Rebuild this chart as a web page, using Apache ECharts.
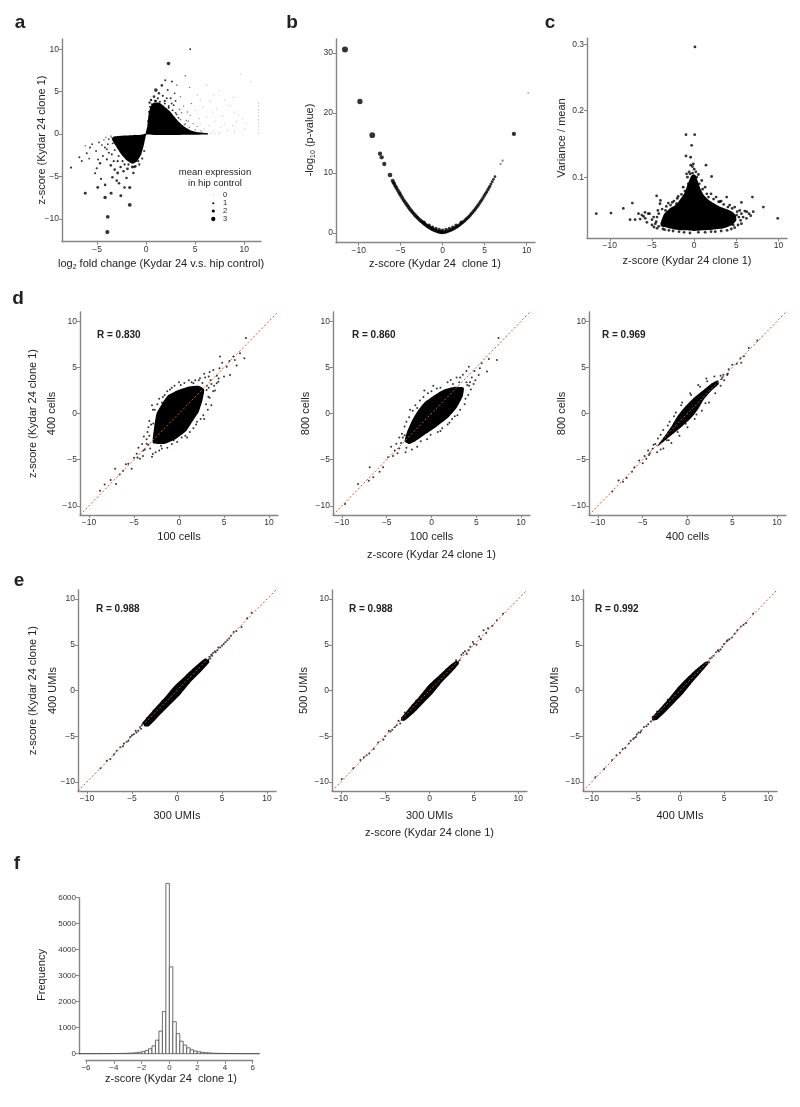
<!DOCTYPE html>
<html><head><meta charset="utf-8">
<script src="https://cdn.jsdelivr.net/npm/echarts@6/dist/echarts.min.js"></script>
<style>html,body{margin:0;padding:0;background:#fff}#c{width:800px;height:1107px}</style>
</head><body><div id="c"></div>
<script>
// ---------- tick labels ----------
const zTicks = [-10, -5, 0, 5, 10];
const aXTicks = [-5, 0, 5, 10];
const bYTicks = [0, 10, 20, 30];
const cYTicks = [0.1, 0.2, 0.3];
const fXTicks = [-6, -4, -2, 0, 2, 4, 6];
const fYTicks = [0, 1000, 2000, 3000, 4000, 5000, 6000];
const legendLevels = [0, 1, 2, 3];

// ---------- panel a: [log2 FC, z-score, mean expression] ----------
const aCoreRight = [[0,-0.05],[0.12,0.9],[0.25,2.3],[0.45,3.2],[0.8,3.7],[1.3,3.7],[1.8,3.3],[2.4,2.7],[2.9,2.0],[3.4,1.35],[3.9,0.85],[4.5,0.45],[5.3,0.2],[6.3,0.08],[6.3,-0.06]];
const aCoreLeft = [[0,0.05],[-0.5,-0.1],[-1.5,-0.15],[-2.5,-0.2],[-3.3,-0.3],[-3.5,-0.6],[-3.1,-1.4],[-2.6,-2.3],[-2.0,-3.1],[-1.4,-3.5],[-0.9,-3.2],[-0.5,-2.4],[-0.25,-1.4],[-0.1,-0.6]];
const aPoints = [
 [-3.95,-11.57,2.8],[-3.91,-9.76,2.5],[-1.67,-8.35,2.6],[-4.18,-7.49,2.2],[-2.58,-7.29,1.8],[-3.57,-6.98,1.8],[-6.2,-6.98,1.8],[-1.67,-6.31,2.0],[-4.93,-6.3,1.7],[-4.18,-6.0,1.4],[-2.76,-5.8,1.4],[-3.44,-5.1,1.4],[-5.2,-4.63,1.1],[-5.03,-4.04,1.1],[-7.65,-3.96,1.1],[-4.69,-3.45,1.3],[-6.56,-3.18,0.9],[-6.8,-2.75,0.9],[-6.05,-2.27,0.9],[-5.71,-1.6,0.9],
 [-3.2,-4.2,1.4],[-2.9,-4.6,1.6],[-2.3,-4.4,1.4],[-1.9,-4.1,1.6],[-1.4,-3.9,1.8],[-1.1,-3.8,1.4],[-3.6,-3.7,1.4],[-4.0,-3.0,1.1],[-4.4,-2.6,0.9],[-3.8,-2.2,0.9],[-5.1,-2.0,0.8],[-5.5,-1.2,0.7],[-4.8,-1.0,0.7],[-6.2,-1.4,0.6],[-2.0,-5.2,1.4],[-3.0,-5.5,1.4],[-2.2,-6.3,1.4],[-4.6,-5.3,1.1],[-1.3,-4.6,1.4],[-0.8,-3.2,1.1],[-0.6,-2.4,1.1],[-2.6,-3.9,1.4],[-3.3,-3.2,1.1],[-4.2,-1.6,0.9],[-5.8,-2.9,0.8],[-4.9,-3.0,0.9],
 [-3.5,-0.4,0.6],[-3.0,-0.8,0.8],[-2.6,-1.2,1.0],[-3.9,-1.2,0.8],[-4.3,-0.7,0.6],[-2.0,-2.8,1.2],[-1.6,-3.0,1.2],[-0.9,-1.8,1.0],[-0.4,-0.9,1.0],
 [-3.6,-0.25,0.6],[-3.8,-0.6,0.7],[-3.4,-1.1,0.8],[-3.2,-1.9,0.9],[-2.8,-2.6,1.0],[-2.4,-3.2,1.1],[-1.8,-3.6,1.2],[-1.2,-3.9,1.3],[-0.7,-3.6,1.2],[-0.4,-2.9,1.1],[-0.2,-2.0,1.0],[-2.9,-3.2,1.2],[-3.5,-2.4,1.0],[-2.5,-2.0,1.0],[-1.6,-2.4,1.1],[-4.0,-1.8,0.8],[-4.5,-1.3,0.7],[-4.1,-0.4,0.5],[-2.2,-3.6,1.2],[-1.0,-2.9,1.1],
 [-8.5,-0.8,0.1],[-8.5,-1.5,0.1],[-8.5,-2.3,0.1],[-8.5,-3.0,0.1],[-8.5,-3.8,0.1],[-8.5,-4.4,0.1],
 [4.49,10.0,0.8],[2.28,8.31,2.4],[3.98,6.86,0.6],[0.99,5.18,2.4],[1.6,5.73,1.4],[2.62,6.2,0.9],[1.94,6.35,0.9],[3.13,5.76,0.6],[1.3,4.8,1.3],[0.8,4.4,1.5],[1.7,4.5,1.1],[2.2,5.2,0.9],[2.9,4.8,0.7],[2.5,4.2,0.9],[0.5,4.0,1.4],[1.9,3.9,1.1],
 [0.4,3.2,1.0],[1.0,3.9,1.2],[2.3,3.1,1.0],[3.3,1.9,0.8],[3.9,1.1,0.6],[2.0,2.4,1.0],
 [0.2,1.5,1.0],[0.3,2.6,1.1],[0.6,3.5,1.2],[0.9,3.9,1.1],[1.4,3.8,1.0],[1.9,3.6,0.9],[2.3,3.3,0.9],[2.7,2.8,0.8],[3.1,2.3,0.7],[3.5,1.7,0.6],[4.0,1.2,0.5],[4.4,0.8,0.45],[5.0,0.5,0.4],[5.6,0.35,0.35],[1.2,4.2,1.2],[0.7,3.0,1.2],[1.6,2.9,1.0],[2.6,3.6,0.8],[3.6,2.5,0.55],[4.3,1.5,0.45],[5.2,0.9,0.35],[0.5,1.5,1.0],[0.35,3.7,1.3],[2.1,4.2,0.9],[3.0,3.9,0.7],
 [9.66,7.06,0.05],[10.68,6.2,0.05],[6.19,5.76,0.2],[4.42,5.49,0.35],[7.48,5.1,0.1],[8.91,4.31,0.05],[8.57,3.29,0.05],[9.42,2.23,0.05],[8.23,3.41,0.05],[5.51,4.0,0.2],[3.81,3.29,0.45],[4.6,3.6,0.35],[5.0,2.8,0.2],[5.8,3.2,0.2],[6.5,3.9,0.1],[6.8,2.6,0.1],[7.2,3.0,0.1],[7.8,2.1,0.1],[6.2,2.0,0.15],[5.4,1.8,0.2],[4.5,2.2,0.35],[4.1,1.6,0.45],[7.0,1.5,0.1],[8.0,1.2,0.05],[8.8,1.0,0.05],[9.2,1.5,0.05],[9.8,1.8,0.05],[10.2,1.3,0.05],[7.6,0.8,0.05],[6.4,1.0,0.1],[5.9,0.6,0.15],[6.8,0.3,0.1],[7.5,0.2,0.05],[8.3,0.4,0.05],[9.0,0.3,0.05],[10.0,0.6,0.05],[5.2,4.6,0.2],[3.5,4.4,0.45],[6.9,4.6,0.1],[8.0,4.0,0.05],[9.0,2.6,0.05],[3.4,2.9,0.6],[4.2,2.6,0.5],[2.8,3.4,0.8],[3.0,2.5,0.7],[4.8,1.2,0.35],[5.5,1.2,0.2],[6.6,0.05,0.1],[7.0,0.03,0.1],[7.4,0.05,0.05],
 [11.45,0.1,0.05],[11.45,0.5,0.05],[11.45,0.9,0.05],[11.45,1.3,0.05],[11.45,1.7,0.05],[11.45,2.1,0.05],[11.45,2.5,0.05],[11.45,2.9,0.05],[11.45,3.3,0.05],[11.45,3.6,0.05]
];

// ---------- panel b: [z-score, -log10 p, mean expression] ----------
const bPoints = [
 [-11.63,30.55,2.6],[-9.85,21.9,2.2],[-8.38,16.3,2.4],[-7.46,13.2,1.6],[-7.26,12.6,1.6],[-6.95,11.5,1.6],[-6.27,9.67,1.8],[-5.95,8.7,1.4],[-5.85,8.4,1.3],[-5.75,8.15,1.3],[-5.62,7.8,1.3],[-5.5,7.5,1.3],[-5.35,7.15,1.3],[-5.2,6.8,1.3],[-5.08,6.5,1.3],[-4.95,6.2,1.3],[-4.8,5.85,1.3],[-4.65,5.5,1.3],[-4.5,5.2,1.3],[-4.35,4.9,1.3],[-4.2,4.6,1.3],[-4.05,4.3,1.3],[-3.9,4.0,1.3],[-3.75,3.75,1.3],[-3.6,3.5,1.3],[-3.45,3.25,1.3],[-3.3,3.0,1.3],[-3.15,2.78,1.3],[-3.0,2.57,1.3],[-2.85,2.37,1.3],[-2.7,2.17,1.3],[-2.55,1.98,1.3],[-2.4,1.8,1.3],[-2.25,1.62,1.3],[-2.1,1.45,1.3],[-1.95,1.3,1.3],[-1.8,1.15,1.3],[-1.65,1.0,1.3],[-1.5,0.88,1.3],[-1.35,0.76,1.3],[-1.2,0.64,1.3],[-1.05,0.54,1.3],[-0.9,0.45,1.3],[-0.75,0.37,1.3],[-0.6,0.3,1.3],[-0.45,0.24,1.3],[-0.3,0.18,1.3],[-0.15,0.14,1.3],[0,0.12,1.3],
 [-1.2,1.0,1],[-0.8,0.8,1],[-0.4,0.6,1],[0,0.5,1],[0.4,0.6,1],[0.8,0.8,1],[1.2,1.0,1],[-1.6,1.3,1],[1.6,1.3,1],[-2.2,1.8,1],[2.2,1.8,1],
 [0.15,0.14,1.1],[0.3,0.18,1.1],[0.45,0.24,1.1],[0.6,0.3,1.1],[0.75,0.37,1.1],[0.9,0.45,1.1],[1.05,0.54,1.1],[1.2,0.64,1.1],[1.35,0.76,1.1],[1.5,0.88,1.1],[1.65,1.0,1.1],[1.8,1.15,1.1],[1.95,1.3,1.1],[2.1,1.45,1.1],[2.25,1.62,1.1],[2.4,1.8,1.1],[2.55,1.98,1.1],[2.7,2.17,1.1],[2.85,2.37,1.1],[3.0,2.57,1.1],[3.15,2.78,1.1],[3.3,3.0,1.1],[3.45,3.25,1.1],[3.6,3.5,1.1],[3.75,3.75,1.1],[3.9,4.0,1.1],[4.05,4.3,1.1],[4.2,4.6,1.1],[4.35,4.9,1.1],[4.5,5.2,1.1],[4.65,5.5,1.1],[4.8,5.85,1.1],[4.95,6.2,1.1],[5.1,6.55,1],[5.24,6.85,1],[5.38,7.2,1],[5.5,7.5,0.9],[5.62,7.8,0.9],[5.75,8.15,0.8],[5.9,8.55,0.8],[6.05,8.95,0.7],[6.23,9.38,0.7],[6.9,11.5,0.3],[7.14,12.05,0.3],[8.49,16.5,1.6],[10.2,23.3,0.2]
];

// ---------- panel c: [z-score, variance/mean] ----------
const cCore = [[-4.0,0.03],[-3.6,0.044],[-2.9,0.053],[-2.2,0.058],[-1.7,0.066],[-1.2,0.075],[-0.9,0.085],[-0.6,0.095],[-0.3,0.103],[0.1,0.104],[0.4,0.095],[0.7,0.084],[1.1,0.074],[1.7,0.066],[2.3,0.061],[3.0,0.056],[3.8,0.052],[4.5,0.048],[4.9,0.043],[5.0,0.035],[4.5,0.028],[3.5,0.023],[2.2,0.021],[1.0,0.02],[0,0.019],[-1.0,0.02],[-2.2,0.021],[-3.2,0.024],[-3.9,0.026]];
const cPoints = [
 [-11.6,0.045],[-9.86,0.046],[-8.4,0.053],[-7.33,0.061],[-4.45,0.072],[0.09,0.296],[-0.97,0.164],[0.06,0.164],[-0.3,0.148],[-0.97,0.132],[-0.42,0.13],[1.4,0.118],[2.07,0.101],[3.85,0.07],[6.9,0.07],[5.6,0.062],[8.2,0.055],[9.9,0.038],[6.7,0.042],[3.06,0.063],[-4.05,0.06],[-3.07,0.061],[-7.6,0.036],[-7.0,0.036],[-6.2,0.043],[-5.83,0.047],[-5.44,0.045],[-4.76,0.025],[-3.66,0.028],[4.63,0.028],[5.03,0.043],[6.22,0.048],[7.0,0.048],
 [-4.4,0.04],[-4.6,0.03],[-5.0,0.036],[-4.3,0.05],[-3.8,0.052],[-3.3,0.056],[-2.6,0.062],[-2.0,0.068],[-1.5,0.074],[-1.3,0.085],[-0.8,0.1],[-0.5,0.105],[0.0,0.112],[0.5,0.104],[0.9,0.095],[1.3,0.085],[2.0,0.075],[2.6,0.07],[3.2,0.064],[4.2,0.058],[4.8,0.055],[5.4,0.05],[5.6,0.045],[5.8,0.04],[6.0,0.049],[5.5,0.035],[5.2,0.028],[4.8,0.024],[3.9,0.02],[2.5,0.018],[1.3,0.017],[-0.5,0.016],[-1.8,0.018],[-3.0,0.02],[-3.7,0.022],[-4.2,0.026],[-5.3,0.045],[-6.0,0.041],[-6.4,0.037],[-5.6,0.032],
 [-0.6,0.108],[-0.2,0.106],[0.3,0.1],[-0.4,0.118],[-0.1,0.12],
 [-4.8,0.04],[-4.5,0.033],[-4.2,0.045],[-3.4,0.05],[-2.8,0.058],[-2.4,0.064],[-1.9,0.071],[-1.1,0.079],[-0.7,0.09],[0.6,0.09],[1.0,0.082],[1.5,0.075],[2.3,0.067],[2.9,0.063],[3.5,0.059],[4.0,0.055],[4.5,0.053],[5.1,0.048],[5.3,0.04],[5.6,0.03],[4.4,0.022],[3.2,0.019],[2.0,0.018],[0.5,0.017],[-1.2,0.017],[-2.5,0.019],[-3.5,0.021],[-4.4,0.023],[-5.0,0.028],[-4.0,0.065],[-6.6,0.045],[6.5,0.045],[6.2,0.038],[-5.8,0.038],[-0.2,0.116],[0.2,0.108],[-0.9,0.105],[1.7,0.07],[-2.1,0.06]
];

// ---------- panels d, e: [x z-score, y z-score] ----------
const diagLine = [[-11,-11],[11,11]];
const d1Core = [[-2.9,-3.2],[-2.8,-1.8],[-2.5,0],[-1.8,1.2],[-1.2,2.0],[-0.2,2.5],[1.0,2.9],[2.2,3.0],[2.8,2.6],[2.6,1.4],[2.2,0.2],[1.4,-1.0],[0.8,-1.9],[-0.4,-2.8],[-1.6,-3.3]];
const d1Points = [[7.44,8.18],[7.26,6.0],[4.56,6.17],[6.2,5.8],[5.67,4.18],[4.19,3.27],[2.33,3.82],[3.81,4.72],[1.6,3.27],[-2.86,-1.09],[-3.96,-4.0],[-4.7,-4.36],[-5.26,-6.0],[-5.63,-5.45],[-7.1,-6.0],[-7.0,-7.63],[-8.26,-7.7],[-8.78,-8.36],[-6.2,-6.2],[-4.33,-4.9],[-3.6,-3.27],[3.07,2.54],[3.26,1.81],[4.37,3.45],[6.04,6.17],[6.78,6.54],[5.3,5.08],
 [-3.3,-2.4],[-3.1,-1.2],[-2.9,0.4],[-2.4,1.0],[-1.6,2.0],[-0.8,2.8],[0.2,3.1],[1.4,3.4],[2.6,3.3],[3.3,2.8],[3.5,3.6],[3.0,1.0],[2.7,-0.2],[1.9,-1.2],[1.2,-2.0],[0.3,-2.6],[-0.8,-3.3],[-1.9,-3.8],[-2.6,-4.2],[-3.4,-3.4],[-3.6,-2.8],[3.9,3.0],[4.5,4.9],[5.0,4.0],[4.8,5.5],[5.6,5.7],[6.4,5.2],[3.4,4.5],[-3.8,-3.9],[-4.5,-3.7],[-5.0,-4.8],[-5.9,-5.5],[-6.6,-6.6],[-7.6,-7.2],
 [-3.2,-3.8],[-3.5,-2.0],[-3.3,-0.8],[-3.0,0.9],[-2.2,1.6],[-1.9,1.2],[-1.3,2.4],[-0.5,3.0],[0.6,3.3],[1.8,3.6],[2.9,3.9],[3.6,3.2],[3.8,2.4],[3.4,1.7],[3.2,0.4],[2.4,-0.6],[1.6,-1.6],[0.7,-2.4],[-0.2,-3.1],[-1.3,-3.7],[-2.2,-4.0],[-2.9,-4.4],[-4.1,-3.3],[-3.9,-2.5],[-2.6,-2.6],[-1.0,2.6],[2.2,3.6],[3.1,3.0],[2.0,-0.9],[-0.6,-2.9],[4.2,4.1],[4.0,2.5],[2.8,4.3],[-4.6,-4.8],[-4.0,-4.6],[-3.0,-4.7],[-2.0,-3.5],[0.0,3.4],[1.1,3.6],[-1.8,1.8],[-2.7,0.4],[-3.4,-1.5],[0.9,-2.6],[2.8,-0.6],[3.6,0.9],[4.4,3.8],[3.3,4.0]];
const d2Core = [[-3.0,-3.0],[-2.7,-1.9],[-2.2,-0.8],[-1.6,0.2],[-0.8,1.2],[0.2,1.9],[1.4,2.6],[2.6,2.9],[3.6,2.8],[3.5,1.9],[2.8,0.6],[1.8,-0.5],[0.6,-1.4],[-0.6,-2.2],[-1.8,-3.0],[-2.5,-3.3]];
const d2Points = [[7.48,8.18],[7.3,5.8],[5.6,5.45],[4.17,5.08],[6.2,4.54],[5.27,4.18],[2.14,3.63],[-3.0,-2.37],[-4.1,-4.0],[-4.86,-4.73],[-5.4,-5.82],[-6.9,-5.82],[-6.5,-6.9],[-8.2,-7.63],[-9.65,-9.8],[-3.93,-3.27],
 [4.5,3.9],[4.8,4.6],[3.9,3.4],[4.2,3.0],[3.1,3.4],[2.4,3.2],[1.0,2.8],[0.0,2.4],[-0.9,1.8],[-1.8,0.9],[-2.5,-0.4],[-3.0,-1.4],[-3.3,-2.2],[-3.4,-3.2],[-2.8,-3.7],[-1.6,-3.6],[-0.5,-2.8],[0.7,-2.0],[1.8,-1.2],[2.9,-0.2],[3.7,1.0],[4.1,2.0],[4.9,3.6],[5.4,4.9],[6.4,5.9],[3.5,4.2],[-4.5,-3.6],[-5.8,-6.3],[-7.0,-7.3],
 [-3.2,-2.6],[-3.6,-3.8],[-2.2,-3.9],[-1.2,-3.0],[-0.1,-2.3],[1.2,-1.6],[2.3,-0.6],[3.2,0.4],[3.8,1.6],[4.4,2.6],[4.3,3.4],[3.2,3.9],[1.8,3.4],[0.6,2.7],[-0.4,2.2],[-1.3,1.4],[-2.1,0.3],[-2.8,-0.9],[-3.6,-2.6],[-2.0,-2.2],[2.6,-0.3],[3.4,2.5],[0.2,3.0],[-1.6,0.6],[-2.4,0.4],[4.7,3.2],[3.9,4.6],[-4.3,-4.6],[-3.8,-4.3],[-2.9,-4.2],[1.0,-1.9],[2.0,-1.0],[-0.8,2.5],[2.8,3.9],[4.0,3.1]];
const d3Core = [[-3.4,-3.6],[-2.6,-2.5],[-1.8,-1.4],[-1.2,-0.4],[-0.4,0.6],[0.6,1.6],[1.6,2.4],[2.6,3.2],[3.4,3.6],[3.5,3.2],[2.7,2.5],[1.8,1.5],[1.2,0.5],[0.4,-0.5],[-0.6,-1.4],[-1.6,-2.2],[-2.6,-3.0]];
const d3Points = [[-8.4,-8.44],[-7.7,-7.27],[-5.93,-5.82],[-6.2,-6.3],[-5.4,-5.1],[-4.8,-4.6],[-4.3,-4.5],[-3.9,-3.82],[-3.6,-3.3],[-4.4,-4.0],[-5.0,-5.4],[6.85,7.09],[5.92,6.0],[5.0,5.27],[4.44,4.18],[4.0,4.2],[4.6,4.8],[3.8,3.7],[5.5,5.4],[6.3,6.2],[7.8,7.9],[6.0,5.5],[4.1,3.6],[3.7,4.1],[-3.0,-2.3],[-2.2,-1.3],[-1.5,-0.3],[-0.7,0.9],[0.4,2.0],[1.4,2.9],[2.2,3.5],[2.0,1.1],[1.0,-0.1],[-0.2,-1.1],[-1.1,-2.0],[-2.1,-2.9],[-3.0,-3.9],[-6.8,-7.0],[-7.2,-7.4],
 [-3.8,-3.4],[-3.3,-2.7],[-2.7,-1.8],[-2.0,-0.9],[-1.3,0.1],[-0.6,1.2],[0.3,2.2],[1.2,3.1],[2.1,3.8],[3.0,4.0],[3.9,3.9],[3.7,3.0],[3.1,2.2],[2.4,1.2],[1.6,0.3],[0.8,-0.6],[0.0,-1.5],[-0.9,-2.4],[-1.8,-3.2],[-2.7,-3.8],[-3.4,-4.2],[-4.2,-4.3],[4.5,4.3],[-4.6,-4.9],[-2.3,-2.9]];
const e1Core = [[-3.8,-3.5],[-2.6,-2.1],[-1.4,-0.8],[-0.3,0.5],[0.9,1.6],[2.1,2.7],[3.1,3.5],[3.5,3.4],[3.6,3.1],[2.7,2.1],[1.5,0.9],[0.4,-0.4],[-0.8,-1.6],[-2.0,-2.8],[-3.1,-3.9],[-3.6,-3.9]];
const e1Points = [[-8.5,-8.5],[-7.0,-7.0],[-6.3,-6.2],[-5.9,-5.8],[-5.2,-5.1],[-4.8,-4.8],[-4.5,-4.6],[-4.1,-4.0],[-3.9,-3.8],[-3.7,-3.5],[4.0,4.1],[4.5,4.4],[4.8,4.7],[5.2,5.1],[5.6,5.5],[6.0,6.0],[6.6,6.5],[7.17,6.95],[8.3,8.5],[3.6,3.7],[3.8,3.9],[5.4,5.3],[4.3,4.2],[-3.3,-3.0],
 [-7.8,-7.7],[-7.4,-7.5],[-6.7,-6.6],[-6.0,-6.1],[-5.6,-5.6],[-5.4,-5.5],[-5.0,-4.9],[-4.6,-4.4],[-4.3,-4.4],[-4.0,-4.2],[-3.6,-3.8],[3.5,3.4],[3.9,3.8],[4.2,4.3],[4.6,4.7],[5.0,4.9],[5.8,5.7],[6.3,6.4],[7.8,7.9],[-3.8,-3.6],[3.7,3.5],
 [-2.6,-2.2],[-1.6,-1.2],[0.6,1.1],[1.8,2.3],[2.8,2.5],[-2.2,-2.8],[-0.4,-0.9],[1.2,0.8]];
const e2Core = [[-3.2,-3.0],[-2.2,-1.8],[-1.2,-0.7],[-0.2,0.5],[0.9,1.5],[2.0,2.5],[2.9,3.2],[3.3,3.2],[3.3,2.9],[2.5,2.0],[1.4,0.9],[0.4,-0.3],[-0.7,-1.4],[-1.8,-2.5],[-2.8,-3.3],[-3.2,-3.3]];
const e2Points = [[8.3,8.4],[7.1,7.1],[6.6,6.8],[6.1,6.6],[5.6,5.9],[5.3,5.0],[4.6,4.8],[4.9,5.3],[4.2,4.0],[3.8,4.1],[3.4,3.3],[3.6,3.9],[-2.2,-2.3],[-2.6,-2.9],[-3.1,-3.0],[-3.3,-3.6],[-3.7,-3.8],[-4.2,-4.3],[-4.6,-4.4],[-5.2,-5.4],[-5.8,-5.7],[-6.3,-6.4],[-7.1,-7.1],[-7.8,-7.6],[-8.6,-8.5],[-9.9,-9.7],[3.0,3.3],[2.6,2.3],[-1.9,-1.6],[-0.9,-1.2],[0.8,1.1],[1.6,1.3],
 [-5.0,-5.0],[-4.4,-4.5],[-3.9,-4.0],[-3.5,-3.3],[-6.8,-6.9],[-7.4,-7.3],[4.0,4.3],[4.4,4.4],[5.0,5.1],[5.8,5.6],[6.4,6.3],[7.6,7.7],[-2.8,-2.4],[-1.5,-1.1],[0.2,0.7],[1.9,2.3],[2.8,2.6],[-2.4,-2.8],[-0.6,-1.0],[1.0,0.6]];
const e3Core = [[-3.2,-3.0],[-2.2,-1.9],[-1.2,-0.8],[-0.2,0.4],[0.8,1.4],[1.8,2.3],[2.8,3.1],[3.2,3.2],[3.2,2.9],[2.4,2.0],[1.4,0.9],[0.4,-0.3],[-0.6,-1.3],[-1.6,-2.3],[-2.6,-3.2],[-3.1,-3.3]];
const e3Points = [[8.3,8.4],[7.5,7.4],[6.9,7.0],[6.2,6.2],[5.6,5.6],[5.0,5.1],[4.6,4.5],[4.1,4.2],[3.6,3.6],[-3.3,-3.4],[-3.8,-3.9],[-4.4,-4.4],[-5.0,-5.1],[-5.6,-5.5],[-6.2,-6.3],[-6.8,-6.8],[-7.7,-7.6],[-8.6,-8.6],[-9.6,-9.5],[3.3,3.1],[-3.1,-2.9],[2.0,2.1],[-2.0,-2.2],[5.3,5.4],[4.4,4.3],[-4.7,-4.6],[-5.3,-5.3],
 [-3.6,-3.7],[-4.1,-4.0],[-4.5,-4.6],[-4.9,-4.8],[-5.2,-5.2],[-5.8,-5.8],[-6.5,-6.4],[-7.2,-7.1],[3.4,3.5],[3.8,3.8],[4.3,4.4],[4.8,4.8],[5.4,5.5],[5.9,5.8],[6.5,6.6],[7.2,7.2],[-2.6,-2.3],[-1.4,-1.0],[0.4,0.8],[1.8,2.2],[2.6,2.6],[-2.2,-2.6],[-0.5,-0.9],[1.1,0.7]];
const rValues = ['0.830', '0.860', '0.969', '0.988', '0.988', '0.992'];

// ---------- panel f: histogram ----------
const histStart = -6.5;
const histWidth = 0.25;
const histCounts = [2,2,3,2,3,3, 4,4,5,6, 8,9,12,15, 20,28,40,55, 80,120,190,300, 520,870,1620,6550, 3340,1230,770,480, 330,225,150,105, 75,55,40,30, 22,16,12,10, 8,6,5,4, 3,3,2,3,2,2];

// ---------- rendering ----------
const FONT = '"Liberation Sans", Arial, Helvetica, sans-serif';
const AXC = '#858585';
const fmt = v => String(v).replace('-', '\u2212');

function axis(gi, min, max, ticks, extra) {
  return Object.assign({
    type: 'value', gridIndex: gi, min: min, max: max,
    axisLine: { show: true, onZero: false, lineStyle: { color: AXC, width: 1.4 } },
    axisTick: { show: true, length: 3, customValues: ticks, lineStyle: { color: AXC, width: 1 } },
    axisLabel: { show: true, customValues: ticks, formatter: fmt, fontSize: 8.5, color: '#333', margin: 3, fontFamily: FONT },
    splitLine: { show: false }
  }, extra || {});
}
function core(gi, outline, smooth) {
  return { type: 'custom', xAxisIndex: gi, yAxisIndex: gi, data: [[0, 0]], silent: true, z: 2,
    renderItem: (params, api) => ({ type: 'polygon',
      shape: { points: outline.map(p => api.coord(p)), smooth: smooth },
      style: { fill: '#000' } }) };
}
function dots(gi, data, size) {
  return { type: 'scatter', xAxisIndex: gi, yAxisIndex: gi, data: data, symbol: 'circle', symbolSize: size,
    itemStyle: { color: '#000' }, silent: true, z: 3 };
}
function diag(gi) {
  return { type: 'line', xAxisIndex: gi, yAxisIndex: gi, data: diagLine, symbol: 'none', silent: true, z: 5,
    lineStyle: { color: '#e0502a', width: 1, type: [2, 2] } };
}
const exprSize = v => 1 + v[2] * 1.1;
const exprSizeB = v => 1.6 + v[2] * 1.7;
const exprColor = p => p.value[2] < 0.3 ? '#a0a0a0' : (p.value[2] < 0.65 ? '#555' : '#000');

const grids = [
  { left: 62, top: 39, width: 199, height: 202.7 },
  { left: 336, top: 39, width: 199, height: 203.7 },
  { left: 587, top: 38.3, width: 200, height: 200 },
  { left: 80, top: 312, width: 198, height: 203 },
  { left: 333, top: 312, width: 197, height: 203 },
  { left: 589, top: 312, width: 197, height: 203 },
  { left: 78, top: 590, width: 198, height: 201 },
  { left: 332, top: 590, width: 195, height: 201 },
  { left: 583, top: 590, width: 194, height: 201 },
  { left: 86, top: 897.7, width: 166.7, height: 156 }
].map(g => Object.assign({ containLabel: false, outerBoundsMode: 'none' }, g));

const xAxes = [
  axis(0, -8.57, 11.7, aXTicks),
  axis(1, -12.7, 11.0, zTicks),
  axis(2, -12.7, 11.0, zTicks),
  axis(3, -11, 11, zTicks), axis(4, -11, 11, zTicks), axis(5, -11, 11, zTicks),
  axis(6, -11, 11, zTicks), axis(7, -11, 11, zTicks), axis(8, -11, 11, zTicks),
  axis(9, -6, 6, fXTicks, { offset: 7 })
];
const yAxes = [
  axis(0, -12.7, 11.2, zTicks),
  axis(1, -1.6, 32.3, bYTicks),
  axis(2, 0.008, 0.309, cYTicks),
  axis(3, -11, 11, zTicks), axis(4, -11, 11, zTicks), axis(5, -11, 11, zTicks),
  axis(6, -11, 11, zTicks), axis(7, -11, 11, zTicks), axis(8, -11, 11, zTicks),
  axis(9, 0, 6000, fYTicks, { offset: 7 })
];
xAxes[9].axisLabel.fontSize = 8; yAxes[9].axisLabel.fontSize = 8;

const series = [
  core(0, aCoreRight, 0.15), core(0, aCoreLeft, 0.15),
  { type: 'scatter', xAxisIndex: 0, yAxisIndex: 0, data: aPoints, symbol: 'circle', symbolSize: exprSize, itemStyle: { color: exprColor }, silent: true, z: 3 },
  { type: 'scatter', xAxisIndex: 1, yAxisIndex: 1, data: bPoints, symbol: 'circle', symbolSize: exprSizeB, itemStyle: { color: exprColor }, silent: true, z: 3 },
  core(2, cCore, 0.2), dots(2, cPoints, 2.8),
  core(3, d1Core, 0.15), dots(3, d1Points, 2), diag(3),
  core(4, d2Core, 0.15), dots(4, d2Points, 2), diag(4),
  core(5, d3Core, 0.15), dots(5, d3Points, 2), diag(5),
  core(6, e1Core, 0.15), dots(6, e1Points, 2), diag(6),
  core(7, e2Core, 0.15), dots(7, e2Points, 2), diag(7),
  core(8, e3Core, 0.15), dots(8, e3Points, 2), diag(8),
  { type: 'custom', xAxisIndex: 9, yAxisIndex: 9, silent: true, z: 3,
    data: histCounts.map((c, i) => [histStart + i * histWidth, c]),
    renderItem: (params, api) => {
      const x0 = api.value(0), c = api.value(1);
      const p0 = api.coord([x0, 0]), p1 = api.coord([x0 + histWidth, c]);
      return { type: 'rect', shape: { x: p0[0], y: p1[1], width: p1[0] - p0[0], height: p0[1] - p1[1] },
        style: { fill: '#fff', stroke: '#4a4a4a', lineWidth: 0.8 } };
    } }
];

function txt(s, x, y, size, opts) {
  opts = opts || {};
  return { type: 'text', x: x, y: y, rotation: opts.rot || 0, silent: true, z: 10,
    style: { text: s, fill: opts.fill || '#222', fontSize: size, fontFamily: FONT, fontWeight: opts.bold ? 'bold' : 'normal',
      align: opts.align || 'center', verticalAlign: 'middle', rich: opts.rich } };
}
const R90 = Math.PI / 2;
const subRich = { s: { fontSize: 7, fontFamily: FONT, fill: '#222', verticalAlign: 'bottom', padding: [6, 0, 0, 0] } };
const zTitle = 'z-score (Kydar 24 clone 1)';
const graphics = [
  txt('a', 20, 23, 19, { bold: true }), txt('b', 292, 23, 19, { bold: true }), txt('c', 550, 23, 19, { bold: true }),
  txt('d', 18, 299, 19, { bold: true }), txt('e', 19, 581, 19, { bold: true }), txt('f', 17, 864, 19, { bold: true }),
  txt('log{s|2} fold change (Kydar 24 v.s. hip control)', 161, 264, 11, { rich: subRich }),
  txt(zTitle, 42, 140, 11, { rot: R90 }),
  txt('z-score (Kydar 24  clone 1)', 435, 264, 11),
  txt('-log{s|10} (p-value)', 310, 140, 11, { rot: R90, rich: subRich }),
  txt(zTitle, 687, 261, 11),
  txt('Variance / mean', 562, 138, 11, { rot: R90 }),
  txt('mean expression', 215, 172.3, 9.5), txt('in hip control', 215, 183.3, 9.5),
  txt(zTitle, 33.3, 413.5, 11, { rot: R90 }), txt('400 cells', 52, 413.5, 11, { rot: R90 }),
  txt('800 cells', 306, 413.5, 11, { rot: R90 }), txt('800 cells', 562, 413.5, 11, { rot: R90 }),
  txt('100 cells', 179, 537, 11), txt('100 cells', 431.5, 537, 11), txt(zTitle, 431.5, 555, 11), txt('400 cells', 687.5, 537, 11),
  txt(zTitle, 33.3, 690.5, 11, { rot: R90 }), txt('400 UMIs', 53, 690.5, 11, { rot: R90 }),
  txt('500 UMIs', 304, 690.5, 11, { rot: R90 }), txt('500 UMIs', 555, 690.5, 11, { rot: R90 }),
  txt('300 UMIs', 177, 815.7, 11), txt('300 UMIs', 429.5, 815.7, 11), txt(zTitle, 429.5, 833.3, 11), txt('400 UMIs', 680, 815.7, 11),
  txt('Frequency', 41.7, 975, 11, { rot: R90 }),
  txt('z-score (Kydar 24  clone 1)', 171, 1079.3, 11)
];
const rPos = [[97, 335.5], [352, 335.5], [602, 335.5], [96, 609], [349, 609], [595, 609]];
rValues.forEach((r, i) => graphics.push(txt('R = ' + r, rPos[i][0], rPos[i][1], 10, { bold: true, align: 'left' })));
const legendY = [195, 203.3, 211, 219];
legendLevels.forEach((lv, i) => {
  graphics.push({ type: 'circle', silent: true, z: 10, shape: { cx: 213.3, cy: legendY[i], r: (1 + lv * 1.1) / 2 },
    style: { fill: lv === 0 ? '#a0a0a0' : '#000' } });
  graphics.push(txt(String(lv), 223, legendY[i], 7.5, { align: 'left' }));
});

const chart = echarts.init(document.getElementById('c'), null, { renderer: 'canvas' });
chart.setOption({
  animation: false,
  backgroundColor: '#fff',
  grid: grids, xAxis: xAxes, yAxis: yAxes, series: series, graphic: graphics
});
</script></body></html>
